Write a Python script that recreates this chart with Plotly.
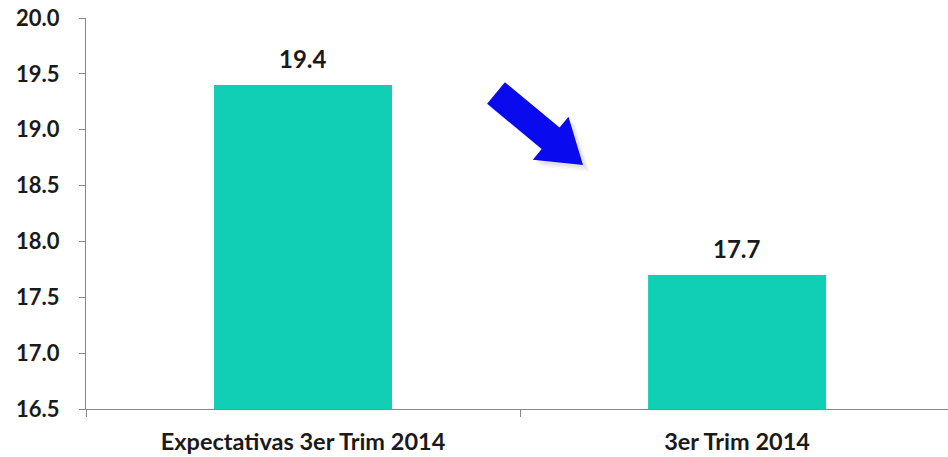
import math
import plotly.graph_objects as go

categories = ["Expectativas 3er Trim 2014", "3er Trim 2014"]
values = [19.4, 17.7]
value_labels = ["19.4", "17.7"]
y_ticks = [16.5, 17.0, 17.5, 18.0, 18.5, 19.0, 19.5, 20.0]
y_tick_labels = ["16.5", "17.0", "17.5", "18.0", "18.5", "19.0", "19.5", "20.0"]

W, H = 948, 457
ML, MR, MT, MB = 86, 0, 18, 457 - 409
PW, PH = W - ML - MR, H - MT - MB

FONT = "Lato"
TXT = "#1a1a1a"

fig = go.Figure()
fig.add_trace(go.Bar(
    x=categories, y=values,
    marker=dict(color="#10CFB4", line=dict(width=0)),
    width=0.41,
    hoverinfo="x+y",
))

for c, v, t in zip(categories, values, value_labels):
    fig.add_annotation(x=c, y=v, text=t, showarrow=False,
                       yanchor="bottom", yshift=10,
                       font=dict(family=FONT, size=24, color=TXT, weight="bold"))

# decorative arrow (pixel geometry -> paper coords)
def to_paper(px, py):
    return ((px - ML) / PW, (H - MB - py) / PH)

def arrow_path(sx, sy, tx, ty, hw, headw, headl, dx=0, dy=0):
    L = math.hypot(tx - sx, ty - sy)
    ux, uy = (tx - sx) / L, (ty - sy) / L
    nx, ny = -uy, ux
    bx, by = tx - ux * headl, ty - uy * headl
    pts = [
        (sx + nx * hw, sy + ny * hw),
        (bx + nx * hw, by + ny * hw),
        (bx + nx * headw, by + ny * headw),
        (tx, ty),
        (bx - nx * headw, by - ny * headw),
        (bx - nx * hw, by - ny * hw),
        (sx - nx * hw, sy - ny * hw),
    ]
    s = ""
    for i, (px, py) in enumerate(pts):
        X, Y = to_paper(px + dx, py + dy)
        s += ("M" if i == 0 else "L") + f"{X:.5f},{Y:.5f} "
    return s + "Z"

ARROW = (496, 93, 583, 165, 14, 28, 42)
for off, op in [(7, 0.06), (5, 0.08), (3, 0.10)]:
    fig.add_shape(type="path", xref="paper", yref="paper",
                  path=arrow_path(*ARROW, off, off),
                  fillcolor="#808080", opacity=op, line=dict(width=0), layer="above")
fig.add_shape(type="path", xref="paper", yref="paper",
              path=arrow_path(*ARROW),
              fillcolor="#0A0AEE", line=dict(width=0), layer="above")

fig.update_layout(
    width=W, height=H,
    margin=dict(l=ML, r=MR, t=MT, b=MB, autoexpand=False),
    paper_bgcolor="white", plot_bgcolor="white",
    showlegend=False,
    xaxis=dict(
        type="category", range=[-0.5, 1.486],
        showline=True, linecolor="#888888", linewidth=1.2,
        ticks="outside", tickson="boundaries", ticklen=7, tickcolor="#888888",
        showgrid=False,
        tickfont=dict(family=FONT, size=23.5, color=TXT, weight="bold"),
        ticklabelstandoff=12,
        ticklabeloverflow="allow",
    ),
    yaxis=dict(
        range=[16.5, 20.0], tickvals=y_ticks, ticktext=y_tick_labels,
        showline=True, linecolor="#888888", linewidth=1.2,
        ticks="outside", ticklen=6, tickcolor="#888888",
        showgrid=False, zeroline=False,
        tickfont=dict(family=FONT, size=22, color=TXT, weight="bold"),
        ticklabelstandoff=15,
        ticklabeloverflow="allow",
    ),
)

fig.write_html("out.html", config={"displayModeBar": False},
               post_script="document.body.style.margin='0';")
